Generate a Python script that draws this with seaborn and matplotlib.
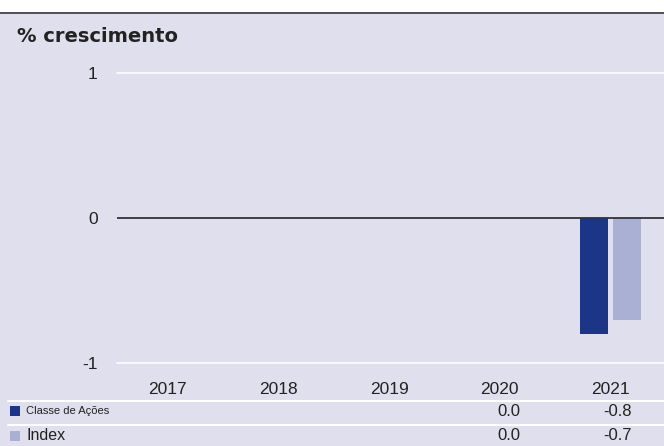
import numpy as np
import pandas as pd
import seaborn as sns
import matplotlib
matplotlib.use('Agg')
import matplotlib.pyplot as plt
from matplotlib.transforms import blended_transform_factory

years = ['2017', '2018', '2019', '2020', '2021']
series = ['Classe de Ações', 'Index']
acoes = [np.nan, np.nan, np.nan, 0.0, -0.8]
index = [np.nan, np.nan, np.nan, 0.0, -0.7]
yticks = [-1, 0, 1]

bg = '#dfdfed'
colors = ['#1c3587', '#aab0d4']

df = pd.DataFrame({
    'year': years * 2,
    'value': acoes + index,
    'serie': [series[0]] * len(years) + [series[1]] * len(years),
})

sns.set_style('white')
plt.rcParams['font.family'] = ['Liberation Sans', 'DejaVu Sans']

fig = plt.figure(figsize=(6.64, 4.46), dpi=100)
fig.patch.set_facecolor(bg)
# white strip on top + dark rule
fig.add_artist(plt.Rectangle((0, 1 - 12 / 446), 1, 12 / 446, transform=fig.transFigure,
                             facecolor='white', edgecolor='none'))
fig.add_artist(plt.Line2D([0, 1], [1 - 12.5 / 446] * 2, transform=fig.transFigure,
                          color='#444444', lw=1.3))
fig.text(17 / 664, 1 - 36 / 446, '% crescimento', fontsize=14, fontweight='bold',
         color='#222222', va='center', ha='left', family=['DejaVu Sans'])

ax = fig.add_axes([117 / 664, 83 / 446, 549 / 664, 290 / 446])
ax.set_facecolor(bg)
sns.barplot(data=df, x='year', y='value', hue='serie', order=years, hue_order=series,
            palette=colors, width=0.6, gap=0.15, ax=ax, legend=False,
            saturation=1, errorbar=None, linewidth=0)
ax.set_xlim(-0.455, 4.5)
ax.set_ylim(-1, 1)
ax.set_yticks(yticks)
ax.set_yticklabels([str(t) for t in yticks])
for t in [-1, 1]:
    ax.axhline(t, color='white', lw=1.2, zorder=0, clip_on=False)
ax.axhline(0, color='#333333', lw=1.3, zorder=3)
for s in ax.spines.values():
    s.set_visible(False)
ax.tick_params(axis='both', length=0, labelsize=12.5, colors='#222222')
ax.tick_params(axis='y', pad=14)
ax.tick_params(axis='x', pad=14)
ax.set_xlabel('')
ax.set_ylabel('')

# table below the chart
tr = blended_transform_factory(ax.transData, fig.transFigure)
for yl in [401, 425]:
    fig.add_artist(plt.Line2D([8 / 664, 1], [1 - yl / 446] * 2, transform=fig.transFigure,
                              color='white', lw=1.5))
rows = [(series[0], acoes, 8, 411), (series[1], index, 11.5, 436)]
for k, (name, vals, fs, yp) in enumerate(rows):
    fig.add_artist(plt.Rectangle((10 / 664, 1 - (yp + 5) / 446), 10 / 664, 10 / 446,
                                 transform=fig.transFigure, facecolor=colors[k], edgecolor='none'))
    fig.text(26 / 664, 1 - yp / 446, name, fontsize=fs, va='center', ha='left', color='#222222')
    for i, v in enumerate(vals):
        if not np.isnan(v):
            fig.text(i + 0.19, 1 - yp / 446, f'{v:.1f}', transform=tr, fontsize=12,
                     va='center', ha='right', color='#222222')

fig.savefig('out.png', dpi=100, facecolor=bg)
